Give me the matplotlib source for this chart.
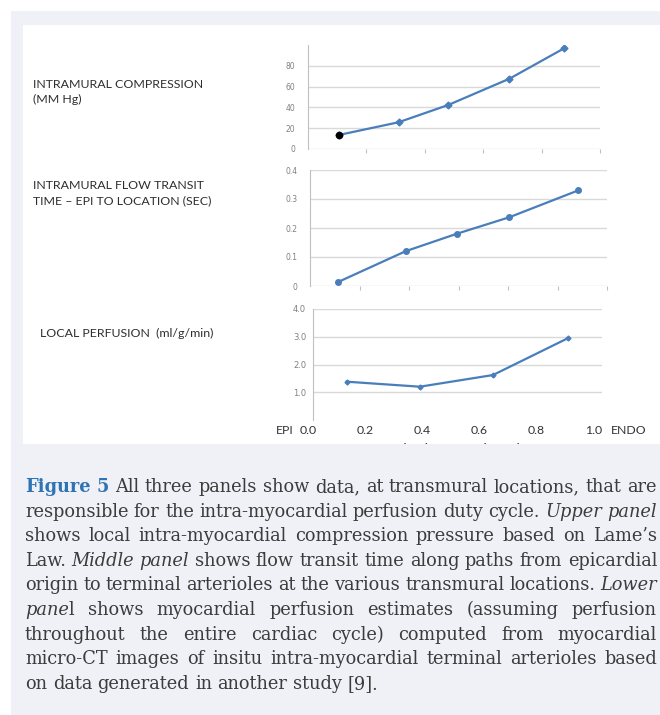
import matplotlib
matplotlib.use('Agg')
from matplotlib import pyplot as plt
from matplotlib import font_manager
from matplotlib.patches import Rectangle
from matplotlib.transforms import blended_transform_factory

# ---- data ----
comp_x = [0.106, 0.31, 0.48, 0.69, 0.877]
comp_y = [13.5, 25.7, 42.3, 67.6, 96.8]
comp_ticks = [0, 20, 40, 60, 80]

transit_x = [0.093, 0.322, 0.494, 0.671, 0.904]
transit_y = [0.013, 0.12, 0.18, 0.237, 0.33]
transit_ticks = [0, 0.1, 0.2, 0.3, 0.4]

perf_x = [0.136, 0.392, 0.648, 0.911]
perf_y = [1.38, 1.2, 1.62, 2.95]
perf_ticks = [1.0, 2.0, 3.0, 4.0]
loc_ticks = [0.0, 0.2, 0.4, 0.6, 0.8, 1.0]

panel_titles = ['INTRAMURAL COMPRESSION\n(MM Hg)',
                'INTRAMURAL FLOW TRANSIT\nTIME \u2013 EPI TO LOCATION (SEC)',
                'LOCAL PERFUSION  (ml/g/min)']

caption = [
    [('Figure 5', 'b'), (' All three panels show data, at transmural locations, that are', 'r')],
    [('responsible for the intra-myocardial perfusion duty cycle. ', 'r'), ('Upper panel', 'i')],
    [('shows local intra-myocardial compression pressure based on Lame\u2019s', 'r')],
    [('Law. ', 'r'), ('Middle panel', 'i'), (' shows flow transit time along paths from epicardial', 'r')],
    [('origin to terminal arterioles at the various transmural locations. ', 'r'), ('Lower', 'i')],
    [('pane', 'i'), ('l shows myocardial perfusion estimates (assuming perfusion', 'r')],
    [('throughout the entire cardiac cycle) computed from myocardial', 'r')],
    [('micro-CT images of insitu intra-myocardial terminal arterioles based', 'r')],
    [('on data generated in another study [9].', 'r')],
]

W, H = 660, 715
BLUE = '#4a7ebb'
GRID = '#d9d9d9'
LABEL_FONT = ['Lato', 'DejaVu Sans']

installed = {f.name for f in font_manager.fontManager.ttflist}
if 'DejaVu Serif Condensed' in installed:
    CAP_FONT, CAP_SIZE = 'DejaVu Serif Condensed', 14
else:
    CAP_FONT, CAP_SIZE = 'DejaVu Serif', 12.8

fig = plt.figure(figsize=(W / 100, H / 100), dpi=100)
fig.patch.set_facecolor('white')


def fx(px):
    return px / W


def fy(px):
    return 1 - px / H


# light frame and white picture area
fig.patches.append(Rectangle((fx(11), 0), fx(W - 11), fy(11), transform=fig.transFigure,
                             facecolor='#eff1f7', edgecolor='none', zorder=-10))
fig.patches.append(Rectangle((fx(23), fy(444)), fx(W - 23), (444 - 25) / H, transform=fig.transFigure,
                             facecolor='white', edgecolor='none', zorder=-9))


def make_axes(left, right, bottom, top):
    ax = fig.add_axes([fx(left), fy(bottom), fx(right - left), (bottom - top) / H])
    ax.set_facecolor('none')
    for s in ['top', 'right', 'bottom']:
        ax.spines[s].set_visible(False)
    ax.spines['left'].set_color('#c0c0c0')
    ax.grid(axis='y', color=GRID, lw=1)
    ax.set_axisbelow(True)
    ax.tick_params(axis='y', length=0, pad=9, labelsize=5.5, labelcolor='#808080')
    ax.tick_params(axis='x', length=3, color='#c0c0c0', labelbottom=False)
    return ax


# upper panel
ax1 = make_axes(308, 600, 149, 45)
ax1.set_xlim(0, 1)
ax1.set_ylim(0, 100)
ax1.set_yticks(comp_ticks)
ax1.set_xticks([0.2, 0.4, 0.6, 0.8, 1.0])
ax1.plot(comp_x, comp_y, color=BLUE, lw=1.6, marker='D', ms=3.5, zorder=3)
ax1.plot(comp_x[:1], comp_y[:1], 'o', color='black', ms=4.5, zorder=4)

# middle panel
ax2 = make_axes(310, 607, 286, 170)
ax2.set_xlim(0, 1)
ax2.set_ylim(0, 0.4)
ax2.set_yticks(transit_ticks)
ax2.set_yticklabels(['0', '0.1', '0.2', '0.3', '0.4'])
ax2.set_xticks([1 / 6, 2 / 6, 3 / 6, 4 / 6, 5 / 6, 1.0])
ax2.plot(transit_x, transit_y, color=BLUE, lw=1.6, marker='o', ms=4, zorder=3)

# lower panel
ax3 = make_axes(313, 602, 420, 309)
ax3.set_xlim(0.0175, 1.03)
ax3.set_ylim(0, 4)
ax3.set_yticks(perf_ticks)
ax3.set_yticklabels(['1.0', '2.0', '3.0', '4.0'])
ax3.tick_params(axis='y', pad=5, labelsize=6)
ax3.set_xticks([])
ax3.plot(perf_x, perf_y, color=BLUE, lw=1.6, marker='D', ms=2.5, zorder=3)

trans = blended_transform_factory(ax3.transData, fig.transFigure)
for v in loc_ticks:
    ax3.text(v, fy(431), '%.1f' % v, transform=trans, ha='center', va='center',
             fontsize=8.8, color='#333333', family=LABEL_FONT, clip_on=False)
fig.text(fx(285), fy(431), 'EPI', ha='center', va='center', fontsize=8.8, color='#333333', family=LABEL_FONT)
fig.text(fx(629), fy(431), 'ENDO', ha='center', va='center', fontsize=8.8, color='#333333', family=LABEL_FONT)

# axis title and end labels, mostly hidden behind the caption band
for x, s in [(300, '(EPI)'), (455, 'Fractional Transmural Location'), (632, '(ENDO)')]:
    fig.text(fx(x), fy(449), s, ha='center', va='center', fontsize=8, fontweight='bold',
             color='#444444', family=LABEL_FONT, zorder=5)
fig.patches.append(Rectangle((fx(11), 0), fx(W - 11), fy(444), transform=fig.transFigure,
                             facecolor='#eff1f7', edgecolor='none', zorder=10))

# panel titles on the left
for (x, y), s in zip([(33, 92), (33, 193), (40, 333)], panel_titles):
    fig.text(fx(x), fy(y), s, ha='left', va='center', fontsize=8.9, color='#2e2e2e',
             family=LABEL_FONT, linespacing=1.45)

# justified caption
styles = {'r': dict(color='#3c3c3c'),
          'i': dict(color='#3c3c3c', style='italic'),
          'b': dict(color='#2e74b5', weight='bold')}


def split_words(segs):
    words = [[]]
    for txt, st in segs:
        parts = txt.split(' ')
        for k, p in enumerate(parts):
            if k > 0:
                words.append([])
            if p:
                words[-1].append((p, st))
    return [w for w in words if w]


renderer = fig.canvas.get_renderer()


def width_of(t):
    return t.get_window_extent(renderer).width


probe_a = fig.text(0, 0, 'a a', fontsize=CAP_SIZE, family=CAP_FONT)
probe_b = fig.text(0, 0, 'aa', fontsize=CAP_SIZE, family=CAP_FONT)
space_w = width_of(probe_a) - width_of(probe_b)
probe_a.remove()
probe_b.remove()

x0, x1 = 25, 657
for i, segs in enumerate(caption):
    base = 492 + 24.6 * i
    words = split_words(segs)
    items = []
    total = 0
    for w in words:
        parts = []
        for txt, st in w:
            t = fig.text(0, fy(base), txt, fontsize=CAP_SIZE, family=CAP_FONT,
                         va='baseline', ha='left', zorder=11, **styles[st])
            tw = width_of(t)
            parts.append((t, tw))
            total += tw
        items.append(parts)
    if i < len(caption) - 1:
        gap = (x1 - x0 - total) / (len(items) - 1)
    else:
        gap = space_w
    x = x0
    for parts in items:
        for t, tw in parts:
            t.set_x(fx(x))
            x += tw
        x += gap

fig.savefig('out.png', dpi=100)
